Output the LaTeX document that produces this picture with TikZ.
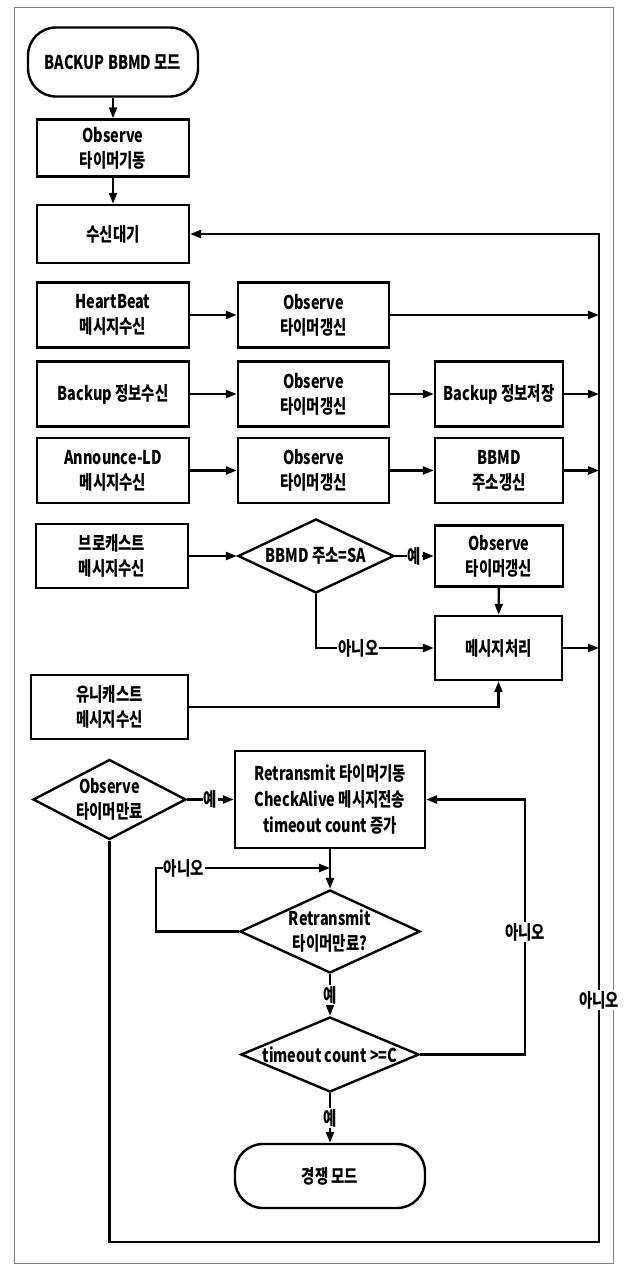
\documentclass[tikz,border=0pt]{standalone}
\usepackage{fontspec}
\setmainfont{Noto Sans CJK KR}[FakeStretch=0.76]
\usetikzlibrary{arrows.meta,shapes.geometric}

\begin{document}
\begin{tikzpicture}[x=1pt,y=-1pt,
    every node/.style={font=\bfseries\fontsize{19}{25}\selectfont},
    box/.style={draw, line width=2.4pt, align=center, inner sep=0pt,
        minimum width=152pt, minimum height=65pt},
    term/.style={box, rounded corners=28pt},
    cond/.style={draw, diamond, line width=2.4pt, align=center, inner sep=0pt},
    arr/.style={line width=2.4pt, -{Triangle[length=11pt,width=8pt]}},
    lab/.style={fill=white, inner sep=1pt}]
    \useasboundingbox (0,0) rectangle (627,1264);
    \draw[gray, line width=0.8pt] (14,7) rectangle (613,1263);

    % BACKUP BBMD mode, receive loop
    \node[term, minimum width=170pt, minimum height=69pt] (start) at (113,62) {BACKUP BBMD 모드};
    \node[box, minimum height=57pt] (obs0) at (113,148) {Observe\\타이머기동};
    \node[box, minimum height=58pt] (wait) at (113,234) {수신대기};

    \node[box] (hb) at (113,315) {HeartBeat\\메시지수신};
    \node[box, minimum width=151pt] (hbobs) at (313.5,315) {Observe\\타이머갱신};

    \node[box] (bk) at (113,394) {Backup 정보수신};
    \node[box, minimum width=151pt] (bkobs) at (313.5,394) {Observe\\타이머갱신};
    \node[box, minimum width=128pt] (bksave) at (499,394) {Backup 정보저장};

    \node[box] (an) at (113,470.5) {Announce-LD\\메시지수신};
    \node[box, minimum width=151pt] (anobs) at (313.5,470.5) {Observe\\타이머갱신};
    \node[box, minimum width=128pt] (anupd) at (499,470.5) {BBMD\\주소갱신};

    \node[box, minimum height=64pt] (bc) at (112,556) {브로캐스트\\메시지수신};
    \node[cond, minimum width=156pt, minimum height=74pt, aspect=2.1] (sa) at (316,556) {BBMD 주소=SA};
    \node[box, minimum width=128pt, minimum height=61pt] (sobs) at (499,556) {Observe\\타이머갱신};
    \node[box, minimum width=127pt, minimum height=64pt] (proc) at (498.5,648) {메시지처리};
    \node[box, minimum width=157pt, minimum height=64pt] (uc) at (109.5,707) {유니캐스트\\메시지수신};

    % observe timer expiry
    \node[cond, minimum width=153pt, minimum height=80pt, aspect=1.9] (exp) at (109.5,799.5) {Observe\\타이머만료};
    \node[box, minimum width=190pt, minimum height=97pt] (rt) at (330,799.5)
        {Retransmit 타이머기동\\[1pt]CheckAlive 메시지전송\\[1pt]timeout count 증가};
    \node[cond, minimum width=180pt, minimum height=83pt, aspect=2.17] (rexp) at (330,931.5) {Retransmit\\타이머만료?};
    \node[cond, minimum width=178pt, minimum height=75pt, aspect=2.37] (cnt) at (330,1054.5) {timeout count >=C};
    \node[term, minimum width=190pt, minimum height=64pt] (comp) at (330,1176) {경쟁 모드};

    \coordinate (tr) at (599,234);
    \coordinate (br) at (599,1242);
    \coordinate (nl) at (156,868);
    \coordinate (rl) at (525,799.5);

    \draw[arr] (start) -- (obs0);
    \draw[arr] (obs0) -- (wait);
    \draw[arr] (hb) -- (hbobs);
    \draw[arr] (hbobs) -- (hbobs -| br);
    \draw[arr] (bk) -- (bkobs);
    \draw[arr] (bkobs) -- (bksave);
    \draw[arr] (bksave) -- (bksave -| br);
    \draw[arr] (an) -- (anobs);
    \draw[arr] (anobs) -- (anupd);
    \draw[arr] (anupd) -- (anupd -| br);
    \draw[arr] (bc) -- (sa);
    \draw[arr] (sa) -- node[lab]{예} (sobs);
    \draw[arr] (sobs) -- (proc);
    \draw[arr] (sa.south) |- node[lab, pos=0.68]{아니오} (proc.west);
    \draw[arr] (proc) -- (proc -| br);
    \draw[arr] (uc) -| (proc);

    \draw[arr] (exp) -- node[lab]{예} (rt);
    \draw[arr] (rt) -- (rexp);
    \draw[arr] (rexp.west) -| (nl) -- node[lab, pos=0.16]{아니오} (rt.south |- nl);
    \draw[arr] (rexp) -- node[lab]{예} (cnt);
    \draw[arr] (cnt.east) -| node[lab, pos=0.74]{아니오} (rl) -- (rt.east);
    \draw[arr] (cnt) -- node[lab]{예} (comp);
    \draw[arr] (exp.south) |- (br) -- node[lab, pos=0.24]{아니오} (tr) -- (wait.east);
\end{tikzpicture}
\end{document}
